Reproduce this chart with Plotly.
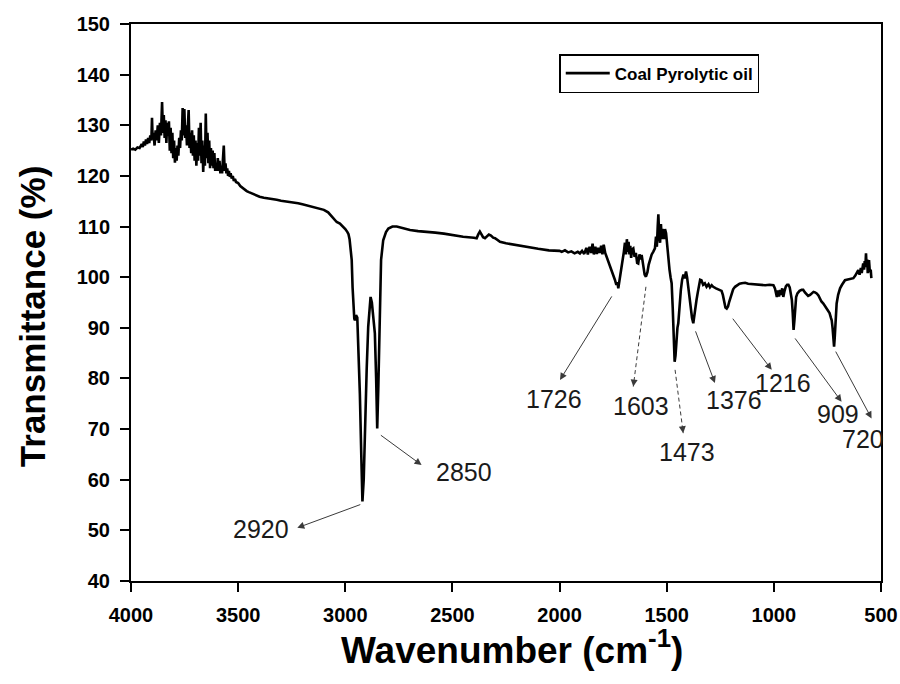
import plotly.graph_objects as go

# ---- spectrum data (wavenumber cm-1, transmittance %) ----
wavenumber = [
    4000, 3990, 3980, 3970, 3960, 3950, 3945, 3940, 3935, 3930, 3925, 3920, 3915, 3910, 3905,
    3902, 3899, 3895, 3890, 3885, 3880, 3875, 3870, 3865, 3860, 3855, 3851, 3847, 3843, 3839,
    3835, 3831, 3827, 3823, 3819, 3815, 3811, 3807, 3803, 3799, 3795, 3791, 3787, 3783, 3779,
    3775, 3771, 3767, 3763, 3759, 3755, 3751, 3747, 3743, 3739, 3735, 3731, 3727, 3723, 3719,
    3715, 3711, 3707, 3703, 3699, 3695, 3691, 3687, 3683, 3679, 3675, 3671, 3667, 3663, 3659,
    3655, 3651, 3647, 3643, 3639, 3635, 3631, 3627, 3623, 3619, 3615, 3611, 3607, 3603, 3599,
    3595, 3591, 3587, 3583, 3579, 3575, 3571, 3567, 3563, 3559, 3555, 3551, 3547, 3543, 3539,
    3535, 3530, 3525, 3520, 3515, 3510, 3500, 3490, 3480, 3470, 3460, 3450, 3440, 3420, 3400,
    3380, 3360, 3340, 3320, 3300, 3280, 3260, 3240, 3220, 3200, 3180, 3160, 3140, 3120, 3100,
    3080, 3070, 3060, 3050, 3040, 3025, 3010, 3000, 2990, 2985, 2980, 2975, 2970, 2966, 2962,
    2958, 2955, 2950, 2944, 2938, 2932, 2926, 2920, 2914, 2908, 2900, 2893, 2886, 2882, 2876,
    2870, 2862, 2856, 2851, 2846, 2841, 2836, 2833, 2823, 2810, 2799, 2780, 2760, 2740, 2720,
    2698, 2660, 2620, 2580, 2540, 2496, 2450, 2400, 2387, 2380, 2372, 2365, 2357, 2348, 2340,
    2330, 2320, 2310, 2301, 2290, 2278, 2250, 2200, 2150, 2100, 2050, 2000, 1990, 1975, 1960,
    1945, 1930, 1915, 1905, 1895, 1885, 1875, 1868, 1860, 1852, 1846, 1840, 1833, 1826, 1819,
    1812, 1806, 1800, 1794, 1787, 1780, 1770, 1760, 1750, 1742, 1735, 1730, 1726, 1720, 1714,
    1710, 1705, 1700, 1695, 1690, 1686, 1682, 1678, 1674, 1670, 1666, 1662, 1656, 1650, 1644,
    1638, 1633, 1627, 1621, 1617, 1610, 1603, 1597, 1590, 1584, 1578, 1570, 1563, 1555, 1550,
    1546, 1542, 1539, 1535, 1531, 1527, 1523, 1519, 1516, 1512, 1508, 1503, 1498, 1493, 1487,
    1482, 1477, 1472, 1467, 1463, 1459, 1455, 1450, 1446, 1440, 1434, 1428, 1422, 1416, 1410,
    1405, 1400, 1394, 1389, 1382, 1376, 1370, 1366, 1361, 1355, 1350, 1344, 1338, 1330, 1322,
    1314, 1305, 1298, 1290, 1283, 1270, 1260, 1250, 1244, 1238, 1232, 1226, 1220, 1214, 1208,
    1202, 1197, 1190, 1181, 1170, 1160, 1150, 1134, 1120, 1100, 1080, 1064, 1040, 1020, 1002,
    995, 990, 986, 981, 976, 971, 966, 961, 956, 950, 944, 938, 932, 926, 920,
    916, 912, 908, 904, 900, 896, 890, 880, 870, 863, 855, 847, 840, 831, 822,
    815, 808, 800, 792, 785, 778, 769, 760, 752, 746, 740, 734, 730, 726, 722,
    719, 716, 712, 707, 700, 691, 682, 675, 668, 660, 650, 640, 629, 620, 612,
    606, 600, 594, 590, 586, 583, 579, 576, 573, 570, 567, 564, 562, 559, 556,
    552, 548, 545,
]
transmittance = [
    125.2, 125.4, 125.2, 125.6, 125.5, 126.3, 125.7, 126.8, 126.0, 127.2, 126.3, 127.5, 126.5, 128.0, 127.0,
    131.5, 127.2, 128.5, 126.0, 129.0, 127.0, 130.0, 126.5, 130.5, 128.0, 134.6, 128.5, 132.0, 127.5, 131.0,
    126.5, 130.5, 128.0, 130.8, 125.0, 129.5, 124.5, 128.5, 123.5, 127.0, 122.6, 125.5, 123.0, 126.0, 124.0,
    127.5, 125.5, 129.0, 127.0, 133.4, 128.0, 133.2, 127.5, 130.0, 126.0, 129.5, 133.0, 125.5, 128.5, 124.5,
    129.0, 124.0, 128.0, 123.0, 127.0, 122.0, 126.5, 123.0, 129.5, 124.0, 130.5, 122.5, 127.0, 120.8, 126.0,
    122.0, 132.3, 123.5, 128.5, 122.5, 127.0, 121.5, 125.5, 122.0, 125.0, 121.5, 124.5, 121.0, 122.5, 121.0,
    123.5, 121.0, 123.0, 120.5, 122.0, 120.5, 124.5, 126.0, 121.0, 122.5, 120.5, 121.5, 120.0, 121.0, 119.8,
    120.5, 119.5, 120.0, 119.0, 119.4, 118.8, 118.6, 118.0, 117.6, 117.4, 117.0, 116.8, 116.6, 116.2, 115.9,
    115.7, 115.6, 115.4, 115.3, 115.1, 115.0, 114.8, 114.7, 114.6, 114.4, 114.2, 114.0, 113.8, 113.6, 113.3,
    112.8, 112.3, 111.8, 111.2, 110.9, 110.6, 110.0, 109.5, 108.9, 108.5, 107.5, 105.5, 103.4, 98.0, 93.0,
    91.8, 91.5, 92.5, 92.0, 85.0, 77.0, 66.0, 55.7, 60.0, 70.5, 82.0, 90.2, 94.5, 96.1, 95.0,
    92.2, 88.9, 80.0, 70.1, 78.0, 88.9, 97.0, 103.4, 107.3, 108.9, 109.6, 110.0, 110.0, 109.8, 109.5,
    109.3, 109.1, 109.0, 108.8, 108.6, 108.3, 108.0, 107.8, 107.7, 108.4, 109.0, 108.5, 107.9, 107.7, 108.0,
    108.4, 108.2, 107.8, 107.7, 107.3, 107.0, 106.7, 106.3, 106.0, 105.6, 105.3, 105.2, 105.0, 105.3, 104.9,
    105.1, 104.7, 105.0, 104.7, 105.2, 104.6, 105.8, 104.5, 106.0, 104.8, 106.6, 104.5, 106.0, 104.6, 105.8,
    104.8, 106.2, 104.5, 106.4, 104.8, 104.0, 103.0, 101.5, 100.4, 99.5, 98.5, 99.0, 97.8, 99.5, 100.5,
    101.4, 103.5, 105.0, 106.8, 104.5, 107.5, 105.0, 107.0, 104.5, 106.2, 103.8, 105.5, 105.7, 104.0, 104.8,
    102.8, 102.7, 104.5, 103.5, 104.4, 102.0, 100.5, 100.1, 101.0, 102.5, 103.4, 104.5, 105.0, 105.7, 108.0,
    106.0, 110.0, 112.4, 108.0, 106.8, 110.5, 107.5, 109.5, 109.0, 107.5, 109.5, 108.7, 106.0, 103.4, 101.5,
    100.0, 98.8, 94.0, 87.5, 83.3, 84.5, 88.0, 90.0, 90.9, 94.5, 97.5, 99.5, 100.5, 99.8, 101.1,
    100.0, 98.1, 96.0, 94.2, 92.0, 90.9, 93.0, 94.5, 95.5, 97.0, 98.5, 99.5, 99.4, 98.5, 98.8,
    98.1, 98.6, 98.0, 98.4, 98.1, 97.8, 97.6, 97.5, 97.3, 96.5, 95.0, 94.0, 93.8, 94.2, 95.2,
    96.0, 96.8, 97.6, 98.1, 98.5, 98.7, 98.8, 98.9, 98.7, 98.6, 98.5, 98.5, 98.4, 98.5, 98.4,
    97.8, 96.8, 96.1, 97.4, 96.2, 97.5, 96.5, 97.8, 96.1, 97.3, 98.2, 98.5, 98.5, 98.0, 96.8,
    95.5, 93.0, 89.6, 91.5, 94.5, 96.1, 96.8, 97.3, 97.5, 97.5, 97.0, 96.6, 96.3, 96.5, 96.9,
    97.1, 97.0, 96.8, 96.4, 95.6, 95.2, 94.8, 94.2, 93.9, 93.5, 92.9, 92.0, 91.5, 90.0, 87.5,
    86.3, 88.0, 91.5, 94.8, 96.5, 97.8, 98.5, 99.0, 99.4, 99.5, 99.6, 99.8, 99.8, 100.3, 100.8,
    101.4, 100.5, 101.8, 100.8, 102.2, 102.7, 101.5, 103.2, 102.0, 104.7, 102.0, 103.5, 100.8, 102.5, 103.4,
    101.0, 101.5, 99.8,
]

# ---- peak labels: text, arrow tail (on the curve), arrow head, label position ----
peak_labels = ["2920", "2850", "1726", "1603", "1473", "1376", "1216", "909", "720"]
tail_x = [2923, 2841, 1752, 1597, 1461, 1368, 1197, 906, 715]
tail_y = [55.2, 69.0, 96.5, 98.1, 81.7, 89.6, 92.1, 88.2, 85.6]
head_x = [3224, 2644, 1998, 1656, 1423, 1275, 1010, 684, 544]
head_y = [50.5, 62.9, 79.7, 78.4, 69.2, 79.1, 81.7, 75.4, 72.1]
label_x = [3393, 2446, 2026, 1620, 1405, 1186, 958, 700, 584]
label_y = [50.3, 61.5, 75.9, 74.6, 65.5, 75.7, 79.1, 72.9, 68.1]
dashed = [False, False, False, True, True, False, False, False, False]

x_ticks = [4000, 3500, 3000, 2500, 2000, 1500, 1000, 500]
y_ticks = [40, 50, 60, 70, 80, 90, 100, 110, 120, 130, 140, 150]

FONT = "Liberation Sans, Arial, Helvetica, sans-serif"
ARROW_COL = "#3a3a3a"

fig = go.Figure()
fig.add_trace(go.Scatter(
    x=wavenumber, y=transmittance, mode="lines",
    name="Coal Pyrolytic oil",
    line=dict(color="black", width=2.6),
))

annotations = []
shapes = []
for i, lab in enumerate(peak_labels):
    if dashed[i]:
        shapes.append(dict(type="line", xref="x", yref="y",
                           x0=tail_x[i], y0=tail_y[i], x1=head_x[i], y1=head_y[i],
                           line=dict(color=ARROW_COL, width=1, dash="4px,3px")))
        fx = head_x[i] + (tail_x[i] - head_x[i]) * 0.08
        fy = head_y[i] + (tail_y[i] - head_y[i]) * 0.08
        annotations.append(dict(x=head_x[i], y=head_y[i], ax=fx, ay=fy,
                                xref="x", yref="y", axref="x", ayref="y",
                                text="", showarrow=True, arrowhead=2, arrowsize=1.4,
                                arrowwidth=1, arrowcolor=ARROW_COL))
    else:
        annotations.append(dict(x=head_x[i], y=head_y[i], ax=tail_x[i], ay=tail_y[i],
                                xref="x", yref="y", axref="x", ayref="y",
                                text="", showarrow=True, arrowhead=2, arrowsize=1.4,
                                arrowwidth=1, arrowcolor=ARROW_COL))
    annotations.append(dict(x=label_x[i], y=label_y[i], xref="x", yref="y",
                            text=lab, showarrow=False, borderpad=0,
                            font=dict(family=FONT, size=25, color="#1a1a1a")))

# axis titles as annotations for exact placement
annotations.append(dict(x=0.508, y=-0.12, xref="paper", yref="paper",
                        xanchor="center", yanchor="middle", showarrow=False,
                        text="Wavenumber (cm<sup>-1</sup>)",
                        font=dict(family=FONT, size=37, color="black", weight="bold")))
annotations.append(dict(x=-0.131, y=0.475, xref="paper", yref="paper",
                        xanchor="center", yanchor="middle", showarrow=False,
                        textangle=-90, text="Transmittance (%)",
                        font=dict(family=FONT, size=35, color="black", weight="bold")))

fig.update_layout(
    width=900, height=684,
    margin=dict(l=131, r=19, t=24, b=103, autoexpand=False),
    paper_bgcolor="white", plot_bgcolor="white",
    showlegend=True,
    legend=dict(x=0.571, y=0.946, xanchor="left", yanchor="top",
                bgcolor="white", bordercolor="black", borderwidth=1.5,
                font=dict(family=FONT, size=17, color="black", weight="bold"),
                itemwidth=44, tracegroupgap=0),
    annotations=annotations,
    shapes=shapes,
    font=dict(family=FONT, color="black"),
)

fig.update_xaxes(
    range=[4000, 500], tickvals=x_ticks, ticktext=[str(v) for v in x_ticks],
    showgrid=False, zeroline=False, automargin=False,
    showline=True, linecolor="black", linewidth=2, mirror=True,
    ticks="outside", ticklen=9, tickwidth=2, tickcolor="black",
    ticklabelstandoff=6,
    tickfont=dict(family=FONT, size=20, color="black", weight="bold"),
)
fig.update_yaxes(
    range=[40, 150], tickvals=y_ticks, ticktext=[str(v) for v in y_ticks],
    showgrid=False, zeroline=False, automargin=False,
    showline=True, linecolor="black", linewidth=2, mirror=True,
    ticks="outside", ticklen=9, tickwidth=2, tickcolor="black",
    ticklabelstandoff=6,
    tickfont=dict(family=FONT, size=20, color="black", weight="bold"),
)

fig.write_html("out.html")
